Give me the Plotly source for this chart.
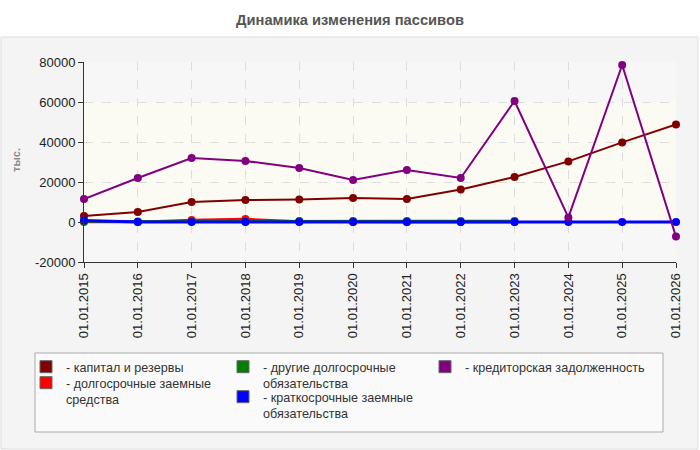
import plotly.graph_objects as go

# Data (тыс.)
dates = ['01.01.2015', '01.01.2016', '01.01.2017', '01.01.2018', '01.01.2019', '01.01.2020',
         '01.01.2021', '01.01.2022', '01.01.2023', '01.01.2024', '01.01.2025', '01.01.2026']
capital      = [3000, 5000, 10000, 11000, 11300, 12000, 11500, 16300, 22500, 30300, 39800, 48800]
lt_loans     = [0, 0, 1000, 1500, 300, 0, 0, 0, 0, None, None, None]
lt_other     = [200, 300, 300, 300, 500, 500, 500, 500, 500, None, None, None]
st_loans     = [700, 0, 0, 0, 0, 0, 0, 0, 0, 0, 0, 0]
payables     = [11500, 22000, 32000, 30500, 27000, 21000, 26000, 22000, 60500, 2300, 78500, -7300]

y_ticks = [-20000, 0, 20000, 40000, 60000, 80000]
y_tick_text = ['-20000', '0', '20000', '40000', '60000', '80000']

# name, values, color, line width, legend slot
series = [
	('капитал и резервы', capital, '#800000', 2, 'legend'),
	('долгосрочные заемные<br>средства', lt_loans, '#ff0000', 2.5, 'legend2'),
	('другие долгосрочные<br>обязательства', lt_other, '#008000', 2.5, 'legend3'),
	('краткосрочные заемные<br>обязательства', st_loans, '#0000ff', 3, 'legend4'),
	('кредиторская задолженность', payables, '#800080', 2, 'legend5'),
]

fig = go.Figure()

for name, vals, color, width, leg in series:
	fig.add_trace(go.Scatter(x=dates, y=vals, mode='lines+markers', showlegend=False,
		line=dict(color=color, width=width), marker=dict(color=color, size=8),
		cliponaxis=False, connectgaps=False))

#Legend-only bars give the rectangular swatches
for name, vals, color, width, leg in series:
	fig.add_trace(go.Bar(x=[None], y=[None], name='- ' + name, legend=leg,
		marker=dict(color=color, line=dict(color='#666', width=1))))

# paper coords: plot area is px 84..676 x 62..262
def px_x(px): return (px - 84) / 592
def px_y(py): return (262 - py) / 200

shapes = [
	#grey panel behind the chart
	dict(type='rect', xref='paper', yref='paper', layer='below',
		x0=px_x(1), x1=px_x(698), y0=px_y(449), y1=px_y(37),
		fillcolor='#f4f4f4', line=dict(color='#dddddd', width=1)),
	#plot background
	dict(type='rect', xref='paper', yref='paper', layer='below',
		x0=0, x1=1, y0=0, y1=1, fillcolor='#f7f7f7', line_width=0),
	#yellowish band 0..60000
	dict(type='rect', xref='paper', yref='y', layer='below',
		x0=0, x1=1, y0=0, y1=60000, fillcolor='#fbfbf3', line_width=0),
	#legend box
	dict(type='rect', xref='paper', yref='paper', layer='below',
		x0=px_x(35), x1=px_x(663), y0=px_y(432), y1=px_y(353),
		fillcolor='#fafafa', line=dict(color='#aaaaaa', width=1)),
]

leg_style = dict(bgcolor='rgba(0,0,0,0)', borderwidth=0, orientation='v',
	font=dict(family='Arial', size=12.6, color='#333'), valign='top',
	xanchor='left', yanchor='top', itemclick=False, itemdoubleclick=False)

#legend slots: (left px, top px)
leg_pos = {'legend': (26, 352), 'legend2': (26, 368), 'legend3': (223, 352),
	'legend4': (223, 382), 'legend5': (425, 352)}

fig.update_layout(
	width=700, height=450,
	margin=dict(l=84, r=24, t=62, b=188),
	paper_bgcolor='white', plot_bgcolor='rgba(0,0,0,0)',
	font=dict(family='Arial', size=13, color='#222'),
	title=dict(text='<b>Динамика изменения пассивов</b>', x=0.5, xanchor='center',
		y=1 - 20 / 450, yanchor='middle', font=dict(size=14.7, color='#555')),
	xaxis=dict(type='category', range=[0, 11], tickangle=-90,
		showgrid=True, gridcolor='#dddddd', griddash='dash', gridwidth=1,
		showline=True, linecolor='#333', linewidth=1,
		ticks='outside', ticklen=5, tickcolor='#333', zeroline=False),
	yaxis=dict(range=[-20000, 80000], tickvals=y_ticks, ticktext=y_tick_text,
		showgrid=True, gridcolor='#dddddd', griddash='dash', gridwidth=1,
		showline=True, linecolor='#333', linewidth=1,
		ticks='outside', ticklen=5, tickcolor='#333', zeroline=False),
	shapes=shapes,
	annotations=[dict(text='<b>тыс.</b>', xref='paper', yref='paper',
		x=px_x(16), y=px_y(160), xanchor='center', yanchor='middle',
		showarrow=False, textangle=-90, font=dict(size=11, color='#888'))],
)
fig.update_layout({k: dict(x=px_x(x), y=px_y(y), **leg_style)
	for k, (x, y) in leg_pos.items()})

fig.write_html('out.html', config={'displayModeBar': False},
	post_script="document.body.style.margin='0px';")
